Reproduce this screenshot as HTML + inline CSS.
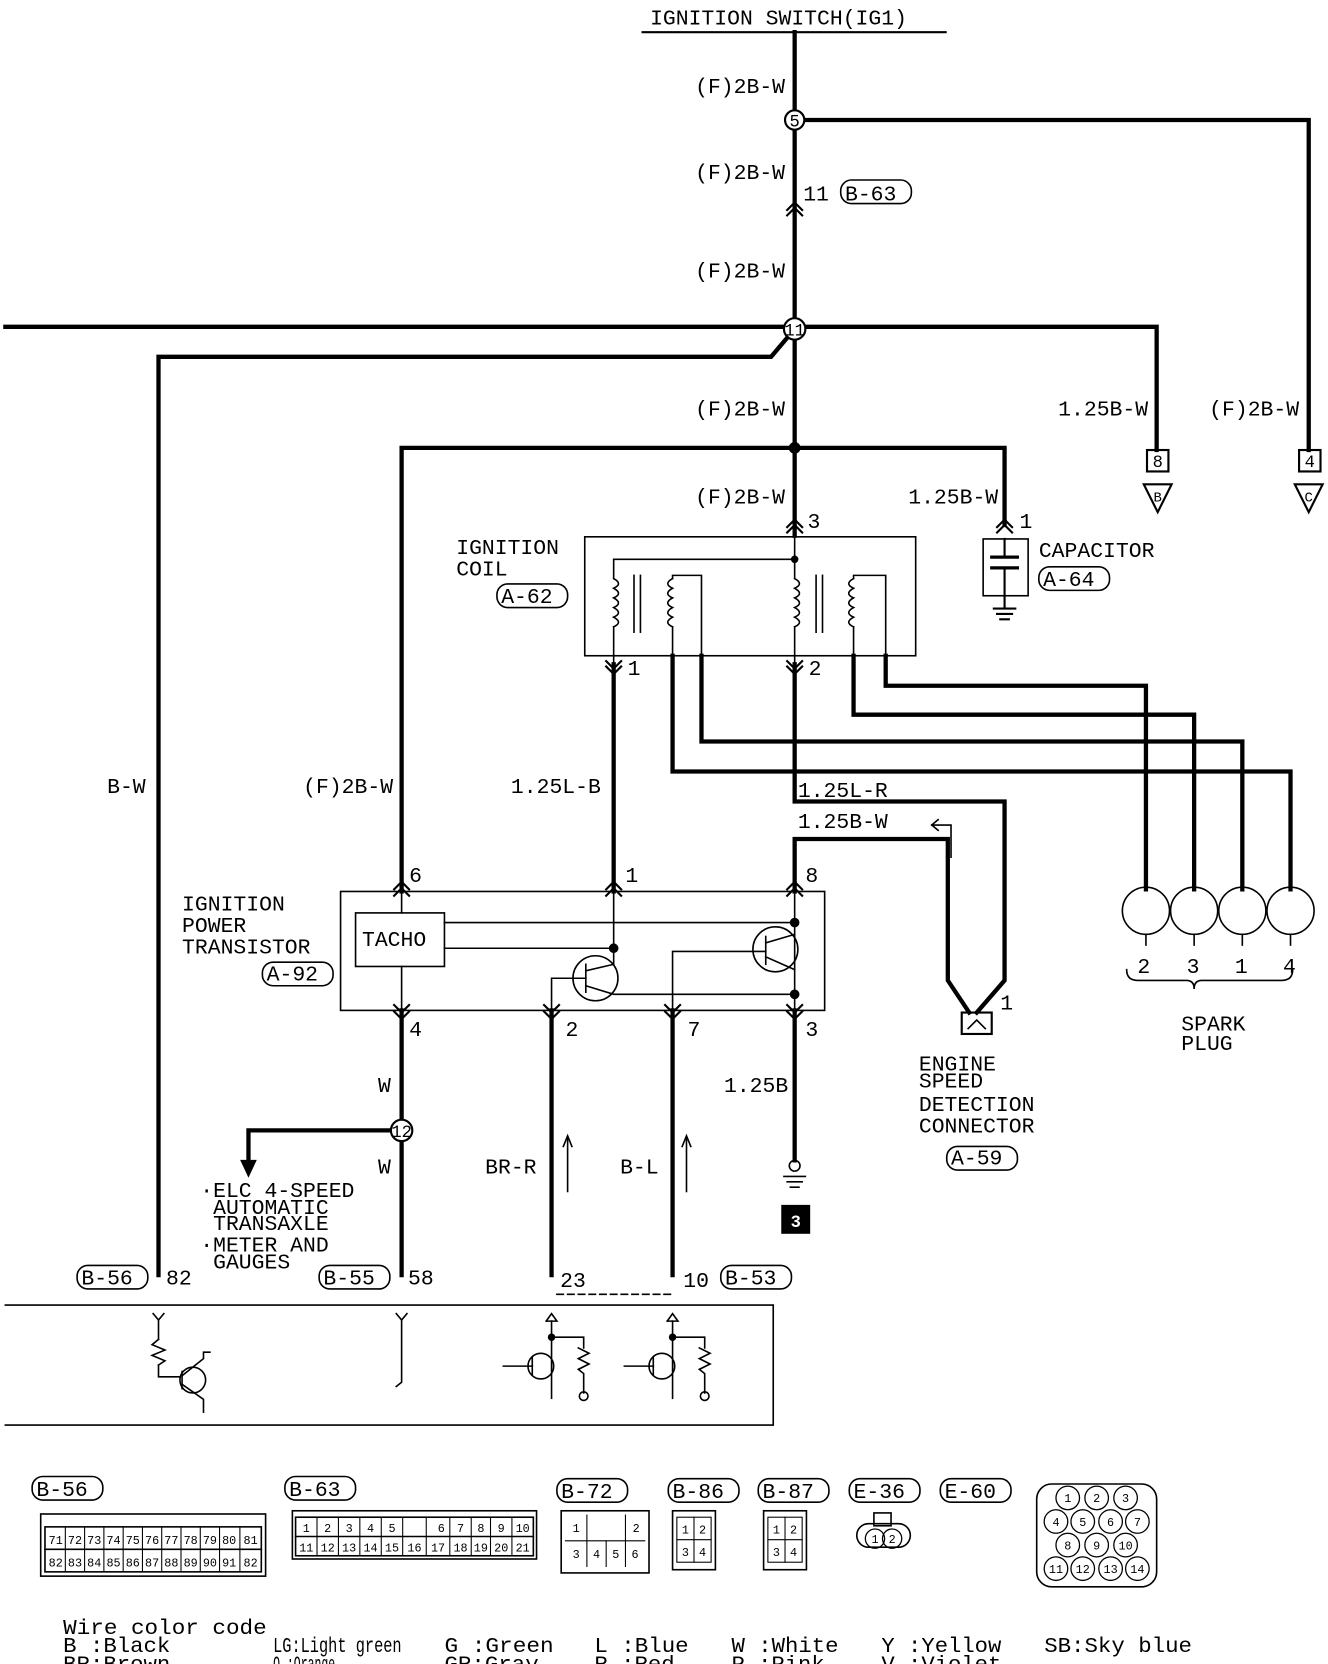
<!DOCTYPE html>
<html><head><meta charset="utf-8"><style>
html,body{margin:0;padding:0;background:#fff}
svg{display:block}
text{font-family:"Liberation Mono",monospace;fill:#000}
</style></head><body>
<svg width="1328" height="1664" viewBox="0 0 1240 1553" preserveAspectRatio="none" xmlns="http://www.w3.org/2000/svg">
<g stroke="#000" fill="none" stroke-linecap="square">
<line x1="600" y1="30" x2="883" y2="30" stroke-width="2"/>
<g stroke-width="4">
<line x1="742" y1="30" x2="742" y2="500"/>
<polyline points="742,112 1222,112 1222,420"/>
<polyline points="5,305 1080,305 1080,420"/>
<polyline points="742,307 720,333 148,333 148,1190"/>
<polyline points="742,418 375,418 375,832"/>
<polyline points="742,418 938,418 938,490"/>
<line x1="573" y1="620" x2="573" y2="832"/>
<polyline points="742,620 742,748 938,748 938,915 912,945"/>
<polyline points="742,832 742,783 885,783 885,915 905,945"/>
<polyline points="628,612 628,720 1205,720 1205,830"/>
<polyline points="655,612 655,692 1160,692 1160,830"/>
<polyline points="797,612 797,667 1115,667 1115,830"/>
<polyline points="827,612 827,640 1070,640 1070,830"/>
<line x1="375" y1="943" x2="375" y2="1190"/>
<line x1="515" y1="943" x2="515" y2="1190"/>
<line x1="628" y1="943" x2="628" y2="1190"/>
<line x1="742" y1="943" x2="742" y2="1083"/>
<polyline points="375,1055 232,1055 232,1085"/>
</g>
<polygon points="225,1083 239,1083 232,1098" fill="#000"/>
<circle cx="742" cy="418" r="5" fill="#000"/>
<circle cx="742" cy="112" r="9" fill="#fff" stroke-width="2"/>
<circle cx="742" cy="307" r="10" fill="#fff" stroke-width="2"/>
<circle cx="375" cy="1055" r="10" fill="#fff" stroke-width="2"/>
<g stroke-width="2">
<polyline points="735,196 742,189 749,196"/><polyline points="735,201 742,194 749,201"/>
<polyline points="735,492 742,485 749,492"/><polyline points="735,497 742,490 749,497"/>
<polyline points="931,492 938,485 945,492"/><polyline points="931,497 938,490 945,497"/>
<polyline points="566,617 573,624 580,617"/><polyline points="566,622 573,629 580,622"/>
<polyline points="735,617 742,624 749,617"/><polyline points="735,622 742,629 749,622"/>
<polyline points="368,830 375,823 382,830"/><polyline points="368,836 375,829 382,836"/>
<polyline points="566,830 573,823 580,830"/><polyline points="566,836 573,829 580,836"/>
<polyline points="735,830 742,823 749,830"/><polyline points="735,836 742,829 749,836"/>
<polyline points="368,938 375,945 382,938"/><polyline points="368,944 375,951 382,944"/>
<polyline points="508,938 515,945 522,938"/><polyline points="508,944 515,951 522,944"/>
<polyline points="621,938 628,945 635,938"/><polyline points="621,944 628,951 635,944"/>
<polyline points="735,938 742,945 749,938"/><polyline points="735,944 742,951 749,944"/>
</g>
<rect x="1071" y="420" width="20" height="20" stroke-width="2"/>
<rect x="1213" y="420" width="20" height="20" stroke-width="2"/>
<polygon points="1068,452 1094,452 1081,478" stroke-width="2"/>
<polygon points="1209,452 1235,452 1222,478" stroke-width="2"/>
<rect x="918" y="503" width="42" height="53" stroke-width="1.5"/>
<line x1="938" y1="503" x2="938" y2="520" stroke-width="2"/>
<line x1="926" y1="520" x2="950" y2="520" stroke-width="3"/>
<line x1="926" y1="530" x2="950" y2="530" stroke-width="3"/>
<line x1="938" y1="530" x2="938" y2="566" stroke-width="2"/>
<line x1="928" y1="568" x2="948" y2="568" stroke-width="2"/><line x1="931" y1="573" x2="945" y2="573" stroke-width="2"/><line x1="934" y1="578" x2="942" y2="578" stroke-width="2"/>
<rect x="546" y="501" width="309" height="111" stroke-width="1.5"/>
<g stroke-width="1.5">
<line x1="742" y1="500" x2="742" y2="540"/>
<polyline points="742,522 573,522 573,540"/>
<line x1="573" y1="585" x2="573" y2="620"/>
<line x1="742" y1="585" x2="742" y2="620"/>
<polyline points="628,540 628,537 655,537 655,612"/>
<line x1="628" y1="585" x2="628" y2="612"/>
<polyline points="797,540 797,537 827,537 827,612"/>
<line x1="797" y1="585" x2="797" y2="612"/>
<path d="M573,540 q9,5 0,9 q9,5 0,9 q9,5 0,9 q9,5 0,9 q9,5 0,9"/>
<path d="M742,540 q9,5 0,9 q9,5 0,9 q9,5 0,9 q9,5 0,9 q9,5 0,9"/>
<path d="M628,540 q-9,5 0,9 q-9,5 0,9 q-9,5 0,9 q-9,5 0,9 q-9,5 0,9"/>
<path d="M797,540 q-9,5 0,9 q-9,5 0,9 q-9,5 0,9 q-9,5 0,9 q-9,5 0,9"/>
<line x1="592" y1="537" x2="592" y2="590"/><line x1="598" y1="537" x2="598" y2="590"/>
<line x1="762" y1="537" x2="762" y2="590"/><line x1="768" y1="537" x2="768" y2="590"/>
</g>
<circle cx="742" cy="522" r="3" fill="#000"/>
<polyline points="870,770 888,770 888,800" stroke-width="1.5"/>
<polyline points="876,765 870,770 876,775" stroke-width="1.5"/>
<rect x="898" y="945" width="28" height="20" stroke-width="2"/>
<polyline points="904,960 912,952 920,960" stroke-width="1.5"/>
<g stroke-width="1.5">
<circle cx="1070" cy="850" r="22"/><circle cx="1115" cy="850" r="22"/><circle cx="1160" cy="850" r="22"/><circle cx="1205" cy="850" r="22"/>
<line x1="1070" y1="872" x2="1070" y2="882"/><line x1="1115" y1="872" x2="1115" y2="882"/><line x1="1160" y1="872" x2="1160" y2="882"/><line x1="1205" y1="872" x2="1205" y2="882"/>
<path d="M1052,905 q0,10 10,10 h46 q7,0 7,8 q0,-8 7,-8 h75 q10,0 10,-10"/>
</g>
<rect x="318" y="832" width="452" height="111" stroke-width="1.5"/>
<rect x="332" y="852" width="83" height="50" stroke-width="1.5"/>
<g stroke-width="1.5">
<line x1="375" y1="832" x2="375" y2="852"/><line x1="375" y1="902" x2="375" y2="943"/>
<line x1="415" y1="861" x2="742" y2="861"/>
<line x1="415" y1="885" x2="573" y2="885"/>
<line x1="573" y1="832" x2="573" y2="900"/>
<line x1="742" y1="832" x2="742" y2="943"/>
<circle cx="556" cy="913" r="21"/><circle cx="724" cy="886" r="21"/>
<polyline points="515,943 515,913 547,913"/><line x1="547" y1="900" x2="547" y2="926"/>
<polyline points="547,906 573,900"/><polyline points="547,920 573,928 742,928"/>
<polyline points="628,943 628,888 715,888"/><line x1="715" y1="874" x2="715" y2="900"/>
<polyline points="715,880 742,872"/><polyline points="715,893 742,905"/>
</g>
<circle cx="573" cy="885" r="4" fill="#000"/><circle cx="742" cy="861" r="4" fill="#000"/><circle cx="742" cy="928" r="4" fill="#000"/>
<circle cx="742" cy="1088" r="5" stroke-width="1.5"/>
<line x1="732" y1="1098" x2="752" y2="1098" stroke-width="1.5"/><line x1="735" y1="1103" x2="749" y2="1103" stroke-width="1.5"/><line x1="738" y1="1108" x2="746" y2="1108" stroke-width="1.5"/>
<rect x="730" y="1125" width="26" height="26" fill="#000"/>
<line x1="530" y1="1112" x2="530" y2="1062" stroke-width="1.5"/><polyline points="526,1070 530,1060 534,1070" stroke-width="1.5"/>
<line x1="641" y1="1112" x2="641" y2="1062" stroke-width="1.5"/><polyline points="637,1070 641,1060 645,1070" stroke-width="1.5"/>
<line x1="520" y1="1208" x2="628" y2="1208" stroke-width="1.5" stroke-dasharray="6,4"/>
<polyline points="5,1218 722,1218 722,1330 5,1330" stroke-width="1.5"/>
<g stroke-width="1.5">
<polyline points="143,1226 148,1232 153,1226"/><line x1="148" y1="1232" x2="148" y2="1250"/>
<polyline points="148,1250 142,1255 154,1260 142,1265 154,1270 148,1274"/>
<polyline points="148,1274 148,1285 168,1285"/><circle cx="180" cy="1288" r="12"/>
<line x1="170" y1="1280" x2="170" y2="1296"/><polyline points="170,1284 190,1268 190,1262 196,1262"/><polyline points="170,1292 190,1306 190,1318"/>
<polyline points="370,1226 375,1232 380,1226"/><polyline points="375,1232 375,1290 370,1294"/>
<polyline points="510,1233 515,1226 520,1233 510,1233"/><line x1="515" y1="1233" x2="515" y2="1305"/>
<polyline points="515,1248 545,1248 545,1258"/><polyline points="540,1258 550,1263 540,1268 550,1273 540,1278 545,1282 545,1300"/><circle cx="545" cy="1303" r="4"/>
<circle cx="505" cy="1275" r="12"/><polyline points="470,1275 497,1275"/><line x1="497" y1="1267" x2="497" y2="1283"/>
<polyline points="623,1233 628,1226 633,1233 623,1233"/><line x1="628" y1="1233" x2="628" y2="1305"/>
<polyline points="628,1248 658,1248 658,1258"/><polyline points="653,1258 663,1263 653,1268 663,1273 653,1278 658,1282 658,1300"/><circle cx="658" cy="1303" r="4"/>
<circle cx="618" cy="1275" r="12"/><polyline points="583,1275 610,1275"/><line x1="610" y1="1267" x2="610" y2="1283"/>
</g>
<circle cx="515" cy="1248" r="3" fill="#000"/><circle cx="628" cy="1248" r="3" fill="#000"/>
<g stroke-width="1.5">
<rect x="785" y="168" width="66" height="22" rx="10"/>
<rect x="464" y="545" width="66" height="22" rx="10"/>
<rect x="970" y="529" width="66" height="22" rx="10"/>
<rect x="245" y="898" width="66" height="22" rx="10"/>
<rect x="884" y="1070" width="66" height="22" rx="10"/>
<rect x="72" y="1181" width="66" height="22" rx="10"/>
<rect x="298" y="1181" width="66" height="22" rx="10"/>
<rect x="673" y="1181" width="66" height="22" rx="10"/>
<rect x="30" y="1378" width="66" height="22" rx="10"/>
<rect x="266" y="1378" width="66" height="22" rx="10"/>
<rect x="520" y="1380" width="66" height="22" rx="10"/>
<rect x="624" y="1380" width="66" height="22" rx="10"/>
<rect x="708" y="1380" width="66" height="22" rx="10"/>
<rect x="793" y="1380" width="66" height="22" rx="10"/>
<rect x="878" y="1380" width="66" height="22" rx="10"/>
</g>
<g stroke-width="1.5">
<rect x="38" y="1413" width="210" height="58"/><rect x="42" y="1425" width="202" height="42"/>
<line x1="42" y1="1446" x2="244" y2="1446"/>
<rect x="273" y="1410" width="228" height="45"/><rect x="276" y="1416" width="222" height="36"/><line x1="276" y1="1434" x2="498" y2="1434"/>
<rect x="524" y="1410" width="82" height="58"/><rect x="713" y="1410" width="40" height="55"/>
<rect x="628" y="1410" width="40" height="55"/>
<rect x="800" y="1422" width="50" height="22" rx="11"/><rect x="816" y="1412" width="16" height="12"/>
<rect x="968" y="1385" width="112" height="96" rx="14"/>
</g>
<g stroke-width="1">
<line x1="61" y1="1425" x2="61" y2="1467"/><line x1="79" y1="1425" x2="79" y2="1467"/><line x1="97" y1="1425" x2="97" y2="1467"/><line x1="115" y1="1425" x2="115" y2="1467"/><line x1="133" y1="1425" x2="133" y2="1467"/><line x1="151" y1="1425" x2="151" y2="1467"/><line x1="169" y1="1425" x2="169" y2="1467"/><line x1="187" y1="1425" x2="187" y2="1467"/><line x1="205" y1="1425" x2="205" y2="1467"/><line x1="224" y1="1425" x2="224" y2="1467"/>
<line x1="296" y1="1416" x2="296" y2="1452"/><line x1="316" y1="1416" x2="316" y2="1452"/><line x1="336" y1="1416" x2="336" y2="1452"/><line x1="356" y1="1416" x2="356" y2="1452"/><line x1="376" y1="1416" x2="376" y2="1452"/><line x1="398" y1="1416" x2="398" y2="1452"/><line x1="420" y1="1416" x2="420" y2="1452"/><line x1="440" y1="1416" x2="440" y2="1452"/><line x1="458" y1="1416" x2="458" y2="1452"/><line x1="478" y1="1416" x2="478" y2="1452"/>
<line x1="528" y1="1438" x2="602" y2="1438"/><line x1="548" y1="1414" x2="548" y2="1462"/><line x1="566" y1="1438" x2="566" y2="1462"/><line x1="584" y1="1414" x2="584" y2="1462"/>
<rect x="632" y="1416" width="32" height="42"/><line x1="648" y1="1416" x2="648" y2="1458"/><line x1="632" y1="1437" x2="664" y2="1437"/>
<rect x="717" y="1416" width="32" height="42"/><line x1="733" y1="1416" x2="733" y2="1458"/><line x1="717" y1="1437" x2="749" y2="1437"/>
</g>
<g stroke-width="1.2">
<circle cx="997" cy="1398" r="11"/><circle cx="1024" cy="1398" r="11"/><circle cx="1051" cy="1398" r="11"/>
<circle cx="986" cy="1420" r="11"/><circle cx="1011" cy="1420" r="11"/><circle cx="1037" cy="1420" r="11"/><circle cx="1062" cy="1420" r="11"/>
<circle cx="997" cy="1442" r="11"/><circle cx="1024" cy="1442" r="11"/><circle cx="1051" cy="1442" r="11"/>
<circle cx="986" cy="1464" r="11"/><circle cx="1011" cy="1464" r="11"/><circle cx="1037" cy="1464" r="11"/><circle cx="1062" cy="1464" r="11"/>
<circle cx="817" cy="1436" r="9"/><circle cx="833" cy="1436" r="9"/>
</g>
</g>
<g font-size="20">
<text x="607" y="23">IGNITION SWITCH(IG1)</text>
<g text-anchor="end">
<text x="733" y="87">(F)2B-W</text><text x="733" y="167">(F)2B-W</text><text x="733" y="259">(F)2B-W</text>
<text x="733" y="388">(F)2B-W</text><text x="733" y="470">(F)2B-W</text>
<text x="1072" y="388">1.25B-W</text><text x="1213" y="388">(F)2B-W</text><text x="932" y="470">1.25B-W</text>
<text x="136" y="740">B-W</text><text x="367" y="740">(F)2B-W</text><text x="561" y="740">1.25L-B</text>
<text x="736" y="1019">1.25B</text>
</g>
<text x="750" y="187">11</text><text x="789" y="187">B-63</text>
<text x="754" y="493">3</text><text x="952" y="493">1</text>
<text x="970" y="520">CAPACITOR</text><text x="974" y="547">A-64</text>
<text x="426" y="517">IGNITION</text><text x="426" y="537">COIL</text><text x="468" y="563">A-62</text>
<text x="586" y="630">1</text><text x="755" y="630">2</text>
<text x="745" y="744">1.25L-R</text><text x="745" y="773">1.25B-W</text>
<text x="382" y="823">6</text><text x="584" y="823">1</text><text x="752" y="823">8</text>
<text x="338" y="883">TACHO</text>
<text x="170" y="850">IGNITION</text><text x="170" y="870">POWER</text><text x="170" y="890">TRANSISTOR</text><text x="249" y="915">A-92</text>
<text x="382" y="967">4</text><text x="528" y="967">2</text><text x="642" y="967">7</text><text x="752" y="967">3</text>
<text x="934" y="942">1</text>
<text x="858" y="999">ENGINE</text><text x="858" y="1015">SPEED</text><text x="858" y="1037">DETECTION</text><text x="858" y="1057">CONNECTOR</text><text x="888" y="1087">A-59</text>
<text x="1062" y="908">2</text><text x="1108" y="908">3</text><text x="1153" y="908">1</text><text x="1198" y="908">4</text>
<text x="1103" y="962">SPARK</text><text x="1103" y="980">PLUG</text>
<text x="353" y="1019">W</text><text x="353" y="1095">W</text>
<text x="453" y="1095">BR-R</text><text x="579" y="1095">B-L</text>
<text x="187" y="1117">·ELC 4-SPEED</text><text x="199" y="1133">AUTOMATIC</text><text x="199" y="1148">TRANSAXLE</text>
<text x="187" y="1168">·METER AND</text><text x="199" y="1184">GAUGES</text>
<text x="76" y="1199">B-56</text><text x="155" y="1199">82</text>
<text x="302" y="1199">B-55</text><text x="381" y="1199">58</text>
<text x="523" y="1201">23</text><text x="638" y="1201">10</text><text x="677" y="1199">B-53</text>
<text x="34" y="1396">B-56</text><text x="270" y="1396">B-63</text><text x="524" y="1398">B-72</text><text x="628" y="1398">B-86</text><text x="712" y="1398">B-87</text><text x="797" y="1398">E-36</text><text x="882" y="1398">E-60</text>
</g>
<g font-size="20" lengthAdjust="spacingAndGlyphs">
<text x="59" y="1525" textLength="190" lengthAdjust="spacingAndGlyphs">Wire color code</text>
<text x="59" y="1542" textLength="100" lengthAdjust="spacingAndGlyphs">B :Black</text><text x="59" y="1559" textLength="100" lengthAdjust="spacingAndGlyphs">BR:Brown</text>
<text x="255" y="1542" textLength="120" lengthAdjust="spacingAndGlyphs">LG:Light green</text><text x="255" y="1559" textLength="58" lengthAdjust="spacingAndGlyphs">O :Orange</text>
<text x="415" y="1542" textLength="102" lengthAdjust="spacingAndGlyphs">G :Green</text><text x="415" y="1559" textLength="88" lengthAdjust="spacingAndGlyphs">GR:Gray</text>
<text x="555" y="1542" textLength="88" lengthAdjust="spacingAndGlyphs">L :Blue</text><text x="555" y="1559" textLength="75" lengthAdjust="spacingAndGlyphs">R :Red</text>
<text x="683" y="1542" textLength="100" lengthAdjust="spacingAndGlyphs">W :White</text><text x="683" y="1559" textLength="87" lengthAdjust="spacingAndGlyphs">P :Pink</text>
<text x="823" y="1542" textLength="112" lengthAdjust="spacingAndGlyphs">Y :Yellow</text><text x="823" y="1559" textLength="112" lengthAdjust="spacingAndGlyphs">V :Violet</text>
<text x="975" y="1542" textLength="138" lengthAdjust="spacingAndGlyphs">SB:Sky blue</text>
</g>
<g font-size="16" text-anchor="middle">
<text x="742" y="118">5</text><text x="742" y="313">11</text><text x="375" y="1061">12</text>
<text x="1081" y="436">8</text><text x="1223" y="436">4</text>
<text x="1081" y="468" font-size="13">B</text><text x="1222" y="468" font-size="13">C</text>
<text x="743" y="1145" style="fill:#fff;font-weight:bold">3</text>
</g>
<g font-size="11" text-anchor="middle">
<text x="52" y="1441">71</text><text x="70" y="1441">72</text><text x="88" y="1441">73</text><text x="106" y="1441">74</text><text x="124" y="1441">75</text><text x="142" y="1441">76</text><text x="160" y="1441">77</text><text x="178" y="1441">78</text><text x="196" y="1441">79</text><text x="214" y="1441">80</text><text x="234" y="1441">81</text>
<text x="52" y="1462">82</text><text x="70" y="1462">83</text><text x="88" y="1462">84</text><text x="106" y="1462">85</text><text x="124" y="1462">86</text><text x="142" y="1462">87</text><text x="160" y="1462">88</text><text x="178" y="1462">89</text><text x="196" y="1462">90</text><text x="214" y="1462">91</text><text x="234" y="1462">82</text>
<text x="286" y="1430">1</text><text x="306" y="1430">2</text><text x="326" y="1430">3</text><text x="346" y="1430">4</text><text x="366" y="1430">5</text><text x="412" y="1430">6</text><text x="430" y="1430">7</text><text x="449" y="1430">8</text><text x="468" y="1430">9</text><text x="488" y="1430">10</text>
<text x="286" y="1448">11</text><text x="306" y="1448">12</text><text x="326" y="1448">13</text><text x="346" y="1448">14</text><text x="366" y="1448">15</text><text x="387" y="1448">16</text><text x="409" y="1448">17</text><text x="430" y="1448">18</text><text x="449" y="1448">19</text><text x="468" y="1448">20</text><text x="488" y="1448">21</text>
<text x="538" y="1430">1</text><text x="594" y="1430">2</text><text x="538" y="1454">3</text><text x="557" y="1454">4</text><text x="575" y="1454">5</text><text x="593" y="1454">6</text>
<text x="640" y="1431">1</text><text x="656" y="1431">2</text><text x="640" y="1452">3</text><text x="656" y="1452">4</text>
<text x="725" y="1431">1</text><text x="741" y="1431">2</text><text x="725" y="1452">3</text><text x="741" y="1452">4</text>
<text x="817" y="1440">1</text><text x="833" y="1440">2</text>
<text x="997" y="1402">1</text><text x="1024" y="1402">2</text><text x="1051" y="1402">3</text>
<text x="986" y="1424">4</text><text x="1011" y="1424">5</text><text x="1037" y="1424">6</text><text x="1062" y="1424">7</text>
<text x="997" y="1446">8</text><text x="1024" y="1446">9</text><text x="1051" y="1446">10</text>
<text x="986" y="1468">11</text><text x="1011" y="1468">12</text><text x="1037" y="1468">13</text><text x="1062" y="1468">14</text>
</g>
</svg>
</body></html>
